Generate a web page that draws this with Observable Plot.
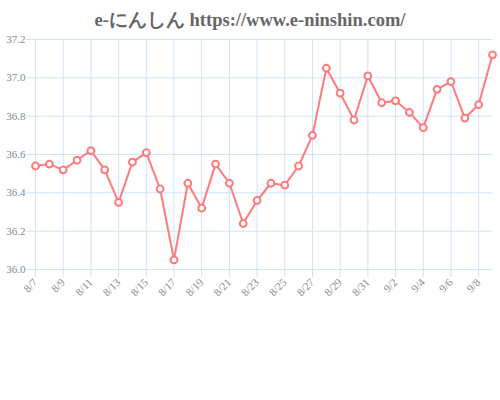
<!DOCTYPE html>
<html><head><meta charset="utf-8">
<script src="https://cdn.jsdelivr.net/npm/d3@7"></script>
<script src="https://cdn.jsdelivr.net/npm/@observablehq/plot@0.6"></script>
<style>
body{margin:0;background:#fff;}
#title{height:30px;line-height:40px;text-align:center;font-family:"Liberation Serif","DejaVu Serif",serif;font-weight:bold;font-size:18.5px;color:#666;white-space:nowrap;}
</style></head>
<body>
<div id="title">e-にんしん https://www.e-ninshin.com/</div>
<div id="chart"></div>
<script>
const year = 2020;
const dates = ["8/7","8/8","8/9","8/10","8/11","8/12","8/13","8/14","8/15","8/16","8/17","8/18","8/19","8/20","8/21","8/22","8/23","8/24","8/25","8/26","8/27","8/28","8/29","8/30","8/31","9/1","9/2","9/3","9/4","9/5","9/6","9/7","9/8","9/9"];
const temps = [36.54,36.55,36.52,36.57,36.62,36.52,36.35,36.56,36.61,36.42,36.05,36.45,36.32,36.55,36.45,36.24,36.36,36.45,36.44,36.54,36.70,37.05,36.92,36.78,37.01,36.87,36.88,36.82,36.74,36.94,36.98,36.79,36.86,37.12];
const xTicks = ["8/7","8/9","8/11","8/13","8/15","8/17","8/19","8/21","8/23","8/25","8/27","8/29","8/31","9/2","9/4","9/6","9/8"];
const yTicks = [36.0,36.2,36.4,36.6,36.8,37.0,37.2];

const toDate = s => { const [m, d] = s.split("/").map(Number); return new Date(Date.UTC(year, m - 1, d)); };
const data = dates.map((d, i) => ({d: toDate(d), t: temps[i]}));
const xTickDates = xTicks.map(toDate);
const grid = "#cde3f8";
const chart = Plot.plot({
  width: 500, height: 370,
  marginLeft: 35, marginRight: 8, marginTop: 9, marginBottom: 131,
  style: {fontFamily: "'Liberation Serif','DejaVu Serif',serif", fontSize: "11px", color: "#888", background: "#fff"},
  x: {type: "utc", domain: [toDate(dates[0]), toDate(dates[dates.length - 1])]},
  y: {domain: [36.0, 37.2]},
  marks: [
    Plot.gridY(yTicks, {stroke: grid, strokeOpacity: 1, strokeWidth: 1}),
    Plot.gridX(xTickDates, {stroke: grid, strokeOpacity: 1, strokeWidth: 1}),
    Plot.axisY(yTicks, {tickSize: 9, stroke: grid, strokeOpacity: 1, tickPadding: 1, tickFormat: d3.format(".1f"), fill: "#888", label: null}),
    Plot.axisX(xTickDates, {tickSize: 8, stroke: grid, strokeOpacity: 1, tickRotate: -45, tickPadding: 3, tickFormat: d3.utcFormat("%-m/%-d"), fill: "#888", label: null}),
    Plot.line(data, {x: "d", y: "t", stroke: "#ff7b7b", strokeWidth: 2}),
    Plot.dot(data, {x: "d", y: "t", r: 3.4, stroke: "#ff7b7b", strokeWidth: 2, fill: "#fff"})
  ]
});
document.getElementById("chart").appendChild(chart);
</script>
</body></html>
